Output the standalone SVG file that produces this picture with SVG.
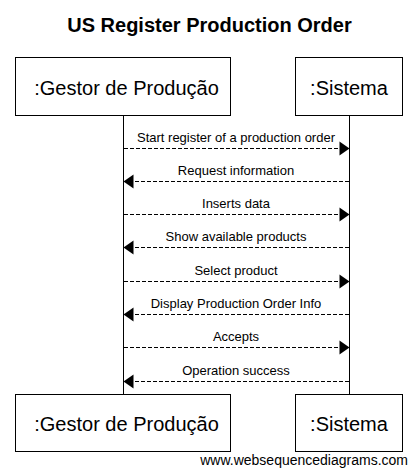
<svg xmlns="http://www.w3.org/2000/svg" width="417" height="476" viewBox="0 0 417 476">
<style>
text{font-family:"Liberation Sans",Arial,sans-serif;fill:#000}
.title{font-size:20px;font-weight:bold;text-anchor:middle}
.part{font-size:20px;text-anchor:middle}
.lbl{font-size:13px;text-anchor:middle}
.foot{font-size:14px;text-anchor:end}
.box{fill:#fff;stroke:#000;stroke-width:1}
.life{stroke:#000;stroke-width:1}
.msg{stroke:#000;stroke-width:1;stroke-dasharray:4,2;fill:none}
.head{fill:#000}
</style>
<rect width="417" height="476" fill="#fff"/>
<text class="title" x="209.5" y="32">US Register Production Order</text>
<g id="lifelines">
<line class="life" x1="123.5" y1="115" x2="123.5" y2="394"/>
<line class="life" x1="349.5" y1="115" x2="349.5" y2="394"/>
</g>
<g id="gestor-top">
<rect class="box" x="15.5" y="57.5" width="215" height="58"/>
<text class="part" x="126.5" y="95">:Gestor de Produção</text>
</g>
<g id="sistema-top">
<rect class="box" x="295.5" y="57.5" width="107" height="58"/>
<text class="part" x="349" y="95">:Sistema</text>
</g>
<g id="gestor-bottom">
<rect class="box" x="15.5" y="394.5" width="215" height="57"/>
<text class="part" x="126.5" y="431">:Gestor de Produção</text>
</g>
<g id="sistema-bottom">
<rect class="box" x="295.5" y="394.5" width="107" height="57"/>
<text class="part" x="349" y="431">:Sistema</text>
</g>
<g id="connectors">
<line class="msg" x1="124" y1="148.5" x2="340" y2="148.5"/>
<polygon class="head" points="349.5,148.5 339.5,141.5 339.5,155.5"/>
<text class="lbl" x="236" y="142">Start register of a production order</text>

<line class="msg" x1="349" y1="181.5" x2="133" y2="181.5"/>
<polygon class="head" points="123.5,181.5 133.5,174.5 133.5,188.5"/>
<text class="lbl" x="236" y="175">Request information</text>

<line class="msg" x1="124" y1="214.5" x2="340" y2="214.5"/>
<polygon class="head" points="349.5,214.5 339.5,207.5 339.5,221.5"/>
<text class="lbl" x="236" y="208">Inserts data</text>

<line class="msg" x1="349" y1="247.5" x2="133" y2="247.5"/>
<polygon class="head" points="123.5,247.5 133.5,240.5 133.5,254.5"/>
<text class="lbl" x="236" y="241">Show available products</text>

<line class="msg" x1="124" y1="281.5" x2="340" y2="281.5"/>
<polygon class="head" points="349.5,281.5 339.5,274.5 339.5,288.5"/>
<text class="lbl" x="236" y="275">Select product</text>

<line class="msg" x1="349" y1="314.5" x2="133" y2="314.5"/>
<polygon class="head" points="123.5,314.5 133.5,307.5 133.5,321.5"/>
<text class="lbl" x="236" y="308">Display Production Order Info</text>

<line class="msg" x1="124" y1="347.5" x2="340" y2="347.5"/>
<polygon class="head" points="349.5,347.5 339.5,340.5 339.5,354.5"/>
<text class="lbl" x="236" y="341">Accepts</text>

<line class="msg" x1="349" y1="381.5" x2="133" y2="381.5"/>
<polygon class="head" points="123.5,381.5 133.5,374.5 133.5,388.5"/>
<text class="lbl" x="236" y="375">Operation success</text>
</g>
<text class="foot" x="408" y="465">www.websequencediagrams.com</text>
</svg>
